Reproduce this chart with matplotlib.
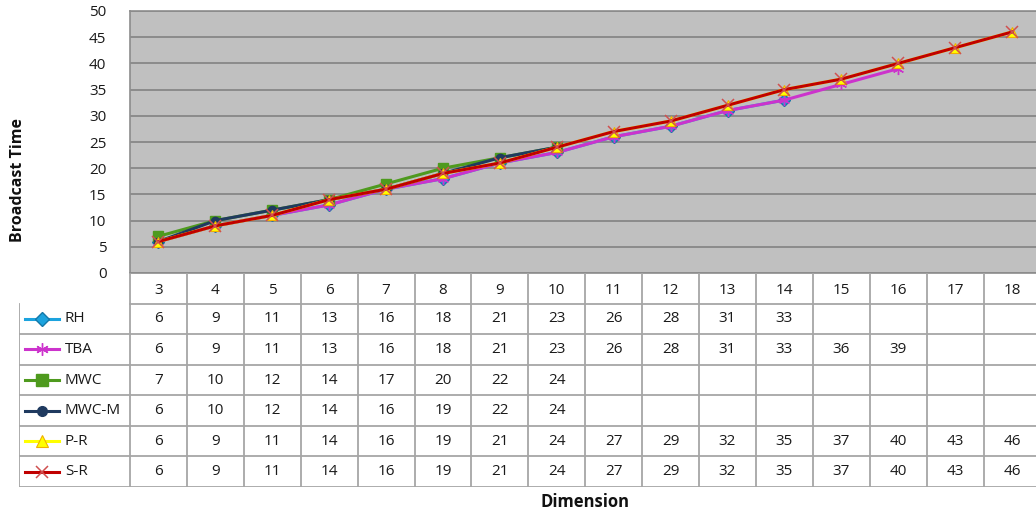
import numpy as np
import matplotlib.pyplot as plt

plt.rcParams['font.family'] = ['Open Sans', 'DejaVu Sans']

# broadcast time per hypercube dimension
dimensions = [3, 4, 5, 6, 7, 8, 9, 10, 11, 12, 13, 14, 15, 16, 17, 18]
rh = [6, 9, 11, 13, 16, 18, 21, 23, 26, 28, 31, 33]
tba = [6, 9, 11, 13, 16, 18, 21, 23, 26, 28, 31, 33, 36, 39]
mwc = [7, 10, 12, 14, 17, 20, 22, 24]
mwc_m = [6, 10, 12, 14, 16, 19, 22, 24]
p_r = [6, 9, 11, 14, 16, 19, 21, 24, 27, 29, 32, 35, 37, 40, 43, 46]
s_r = [6, 9, 11, 14, 16, 19, 21, 24, 27, 29, 32, 35, 37, 40, 43, 46]
names = ['RH', 'TBA', 'MWC', 'MWC-M', 'P-R', 'S-R']

series = [rh, tba, mwc, mwc_m, p_r, s_r]
styles = [
    dict(color='#1CA3DE', marker='D', ms=6, mec='#1578A8', mfc='#1CA3DE'),
    dict(color='#CC33CC', marker=(6, 2, 0), ms=8, mec='#CC33CC', mfc='#CC33CC'),
    dict(color='#4E9A1E', marker='s', ms=7, mec='#4E9A1E', mfc='#4E9A1E'),
    dict(color='#1F3A5F', marker='o', ms=6, mec='#1F3A5F', mfc='#1F3A5F'),
    dict(color='#FFFF00', marker='^', ms=7, mec='#F0B000', mfc='#FFFF00', mew=0.8),
    dict(color='#C00000', marker='x', ms=8, mec='#D05050', mfc='#C00000', mew=1.1),
]

W, H = 1036, 512
fig = plt.figure(figsize=(W / 100, H / 100), dpi=100)

# pixel layout of plot area and data table
left_px, right_px = 130, 1040.5
top_px, bottom_px = 11, 273
table_left_px, table_bottom_px = 19, 487
ncat = len(dimensions)
colw = (right_px - left_px) / ncat
fs = 11
tc = '#1A1A1A'

ax = fig.add_axes([left_px / W, 1 - bottom_px / H,
                   (right_px - left_px) / W, (bottom_px - top_px) / H])
ax.set_facecolor('#C0C0C0')
x = np.arange(ncat)
for vals, st in zip(series, styles):
    ax.plot(x[:len(vals)], vals, lw=2.2, zorder=3, **st)

ax.set_xlim(-0.5, ncat - 0.5)
ax.set_ylim(0, 50)
ax.set_yticks(range(0, 51, 5))
ax.set_xticks([])
ax.tick_params(axis='y', length=0, pad=17, labelsize=fs, labelcolor=tc)
ax.grid(axis='y', color='#878787', lw=1.3, zorder=1)
for sp in ax.spines.values():
    sp.set_color('#8C8C8C')
    sp.set_linewidth(1.2)

# data table below the plot
tx = fig.add_axes([table_left_px / W, 1 - table_bottom_px / H,
                   (right_px - table_left_px) / W, (table_bottom_px - bottom_px) / H])
x0 = -0.5 - (left_px - table_left_px) / colw
tx.set_xlim(x0, ncat - 0.5)
nrows = len(names) + 1
tx.set_ylim(nrows, 0)
tx.axis('off')

lc = '#A6A6A6'
lw = 1.3
# horizontal rules
tx.plot([-0.5, ncat - 0.5], [1, 1], color=lc, lw=lw)
for r in range(2, nrows + 1):
    tx.plot([x0, ncat - 0.5], [r, r], color=lc, lw=lw)
# vertical rules
tx.plot([x0, x0], [1, nrows], color=lc, lw=lw)
for c in range(ncat + 1):
    tx.plot([c - 0.5, c - 0.5], [0, nrows], color=lc, lw=lw)

for i, d in enumerate(dimensions):
    tx.text(i, 0.57, str(d), ha='center', va='center', fontsize=fs, color=tc)

for r, (name, vals, st) in enumerate(zip(names, series, styles)):
    yc = r + 1.5
    a = x0 + (25 - table_left_px) / colw
    b = x0 + (59 - table_left_px) / colw
    tx.plot([a, b], [yc, yc], lw=2.2, color=st['color'])
    tx.plot([(a + b) / 2], [yc], marker=st['marker'], ms=st['ms'] + 1,
            mec=st['mec'], mfc=st['mfc'], mew=st.get('mew', 1.0), ls='none')
    tx.text(x0 + (65 - table_left_px) / colw, yc, name, ha='left', va='center',
            fontsize=fs, color=tc)
    for i, v in enumerate(vals):
        tx.text(i, yc, str(v), ha='center', va='center', fontsize=fs, color=tc)

fig.text((left_px + right_px) / 2 / W, 1 - 502 / H, 'Dimension', ha='center', va='center',
         fontsize=12, fontweight='bold', color='#111111')
fig.text(18 / W, 1 - 180 / H, 'Broadcast Time', ha='center', va='center', rotation=90,
         fontsize=11.5, fontweight='bold', color='#111111')

fig.savefig('out.png', dpi=100)
